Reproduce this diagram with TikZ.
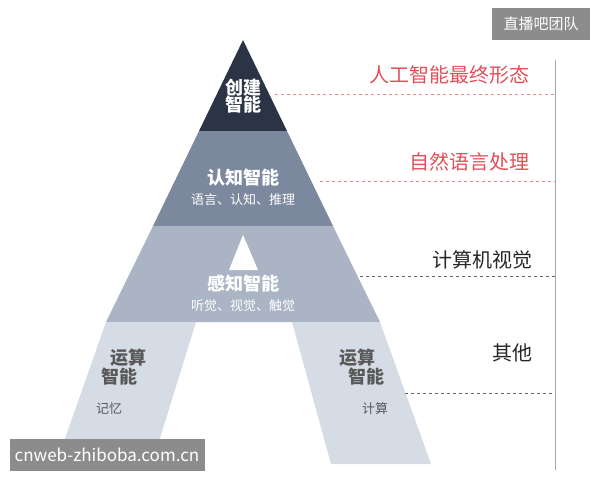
\documentclass[tikz,border=0pt]{standalone}
\usepackage{fontspec}
\setmainfont{Noto Sans CJK SC}
\usetikzlibrary{positioning}

\begin{document}
\begin{tikzpicture}
[x=1pt, y=-1pt,
 guide/.style={dashed, line width=0.8pt},
 toptext/.style={text=white, font=\bfseries\fontsize{18}{20}\selectfont, align=center},
 subtext/.style={text=white, font=\fontsize{13}{15}\selectfont},
 legtext/.style={text=black!65, font=\bfseries\fontsize{18}{21}\selectfont, align=left},
 sidetext/.style={font=\fontsize{20}{23}\selectfont},
]
\definecolor{apexcol}{HTML}{2B3445}
\definecolor{cogcol}{HTML}{7B889D}
\definecolor{percol}{HTML}{AAB4C5}
\definecolor{legcol}{HTML}{D6DCE6}
\definecolor{redcol}{HTML}{E0505A}
\useasboundingbox (0,0) rectangle (600,480);

% pyramid tiers
\fill[apexcol] (243,40) -- (287,131) -- (199,131) -- cycle;
\fill[cogcol] (199,131) -- (287,131) -- (333,226) -- (153,226) -- cycle;
\fill[percol] (153,226) -- (333,226) -- (380,322) -- (106,322) -- cycle;
\fill[white] (243,235) -- (258,270) -- (229,270) -- cycle;
\fill[legcol] (106,322) -- (196,322) -- (152,464) -- (56,464) -- cycle;
\fill[legcol] (292,322) -- (380,322) -- (431,464) -- (331,464) -- cycle;

% texts in the tiers
\node[toptext] (create) at (243,96) {创建\\[-3pt]智能};
\node[toptext] (cognize) at (243,178) {认知智能};
\node[subtext, below=0pt of cognize] (cogsub) {语言、认知、推理};
\node[toptext] (perceive) at (243,284) {感知智能};
\node[subtext, below=0pt of perceive] (persub) {听觉、视觉、触觉};
\node[legtext] (leftleg) at (124,367) {\ \ 运算\\[-2pt]智能};
\node[text=black!65, font=\fontsize{13}{15}\selectfont] (leftsub) at (109,409) {记忆};
\node[legtext] (rightleg) at (362,367) {运算\\[-2pt]\ \ 智能};
\node[text=black!65, font=\fontsize{13}{15}\selectfont] (rightsub) at (375,409) {计算};

% guide lines and side labels
\coordinate (rail top) at (555,60);
\coordinate (rail bottom) at (555,470);
\draw[black!35, line width=1pt] (rail top) -- (rail bottom);
\coordinate (g1) at (275,94);  \coordinate (e1) at (555,94);
\coordinate (g2) at (320,181); \coordinate (e2) at (555,181);
\coordinate (g3) at (360,276); \coordinate (e3) at (555,276);
\coordinate (g4) at (405,393); \coordinate (e4) at (555,393);
\draw[guide, redcol!70] (g1) -- (e1);
\draw[guide, redcol!70] (g2) -- (e2);
\draw[guide, black!60] (g3) -- (e3);
\draw[guide, black!60] (g4) -- (e4);
\node[sidetext, text=redcol, anchor=east] (final) at (533,75) {人工智能最终形态};
\node[sidetext, text=redcol, anchor=east] (nlp) at (533,162) {自然语言处理};
\node[sidetext, text=black!85, anchor=east] (vision) at (536,260) {计算机视觉};
\node[sidetext, text=black!85, anchor=east] (other) at (536,353) {其他};

% badges
\node[fill=black!45, text=white, minimum width=98pt, minimum height=32pt,
      font=\fontsize{15}{17}\selectfont] (team) at (541,24) {直播吧团队};
\node[fill=black!45, text=white, minimum width=195pt, minimum height=32pt,
      font=\fontsize{17}{19}\selectfont] (site) at (107,455) {cnweb-zhiboba.com.cn};
\end{tikzpicture}
\end{document}
